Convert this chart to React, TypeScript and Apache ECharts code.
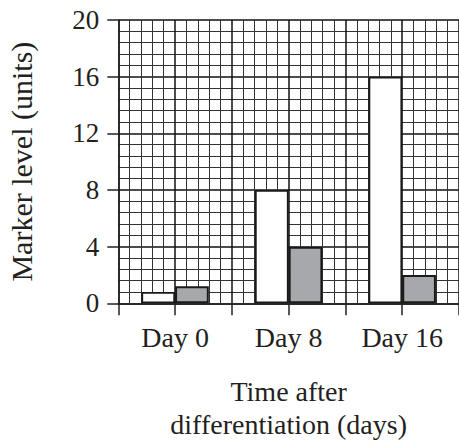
import React, { useEffect, useRef } from "react";
import * as echarts from "echarts";

const categories = ["Day 0", "Day 8", "Day 16"];
const whiteSeries = [0.8, 8, 16];
const graySeries = [1.2, 4, 2];
const yTicks = { min: 0, max: 20, interval: 4 };

const FONT = "Liberation Serif";
const INK = "#231f20";

export default function App() {
  const ref = useRef<HTMLDivElement>(null);
  useEffect(() => {
    if (!ref.current) return;
    const chart = echarts.init(ref.current, undefined, { renderer: "svg" });
    chart.setOption({
      animation: false,
      backgroundColor: "#fff",
      textStyle: { fontFamily: FONT },
      grid: {
        left: 118.3,
        top: 20,
        right: 0,
        bottom: 140.7,
        containLabel: false,
        outerBoundsMode: "none",
      },
      xAxis: [
        {
          type: "category",
          data: categories,
          position: "bottom",
          axisLine: { show: true, lineStyle: { color: INK, width: 1.5 } },
          axisTick: { show: false },
          axisLabel: {
            show: true,
            fontFamily: FONT,
            fontSize: 28,
            color: INK,
            margin: 20,
          },
          splitLine: { show: false },
          name: "Time after\ndifferentiation (days)",
          nameLocation: "middle",
          nameGap: 72,
          nameTextStyle: {
            fontFamily: FONT,
            fontSize: 28,
            color: INK,
            lineHeight: 33,
            verticalAlign: "top",
          },
          z: 3,
        },
        {
          type: "value",
          min: 0,
          max: 6,
          interval: 1,
          position: "bottom",
          axisLine: { show: false },
          axisTick: { show: true, length: 12, inside: false, lineStyle: { color: INK, width: 1.5 } },
          axisLabel: { show: false },
          splitLine: { show: true, lineStyle: { color: "#111", width: 1.5 } },
          minorTick: { show: false, splitNumber: 5 },
          minorSplitLine: { show: true, lineStyle: { color: "#333", width: 1 } },
        },
      ],
      yAxis: {
        type: "value",
        min: yTicks.min,
        max: yTicks.max,
        interval: yTicks.interval,
        axisLine: { show: true, lineStyle: { color: INK, width: 1.5 } },
        axisTick: { show: true, length: 11, inside: false, lineStyle: { color: INK, width: 1.5 } },
        axisLabel: {
          show: true,
          fontFamily: FONT,
          fontSize: 27,
          color: INK,
          margin: 19,
        },
        splitLine: { show: true, lineStyle: { color: "#111", width: 1.5 } },
        minorTick: { show: false, splitNumber: 5 },
        minorSplitLine: { show: true, lineStyle: { color: "#333", width: 1 } },
        name: "Marker level (units)",
        nameLocation: "middle",
        nameGap: 82,
        nameTextStyle: { fontFamily: FONT, fontSize: 30, color: INK },
      },
      series: [
        {
          type: "bar",
          xAxisIndex: 0,
          data: whiteSeries,
          barWidth: "29.7%",
          barGap: "0%",
          itemStyle: { color: "#ffffff", borderColor: "#1a1a1a", borderWidth: 1.8 },
          z: 5,
        },
        {
          type: "bar",
          xAxisIndex: 0,
          data: graySeries,
          barWidth: "29.7%",
          barGap: "0%",
          itemStyle: { color: "#a7a8ab", borderColor: "#1a1a1a", borderWidth: 2 },
          z: 5,
        },
      ],
    });
    return () => chart.dispose();
  }, []);
  return (
    <div
      ref={ref}
      style={{ position: "fixed", left: 0, top: 0, width: 459, height: 444 }}
    />
  );
}
